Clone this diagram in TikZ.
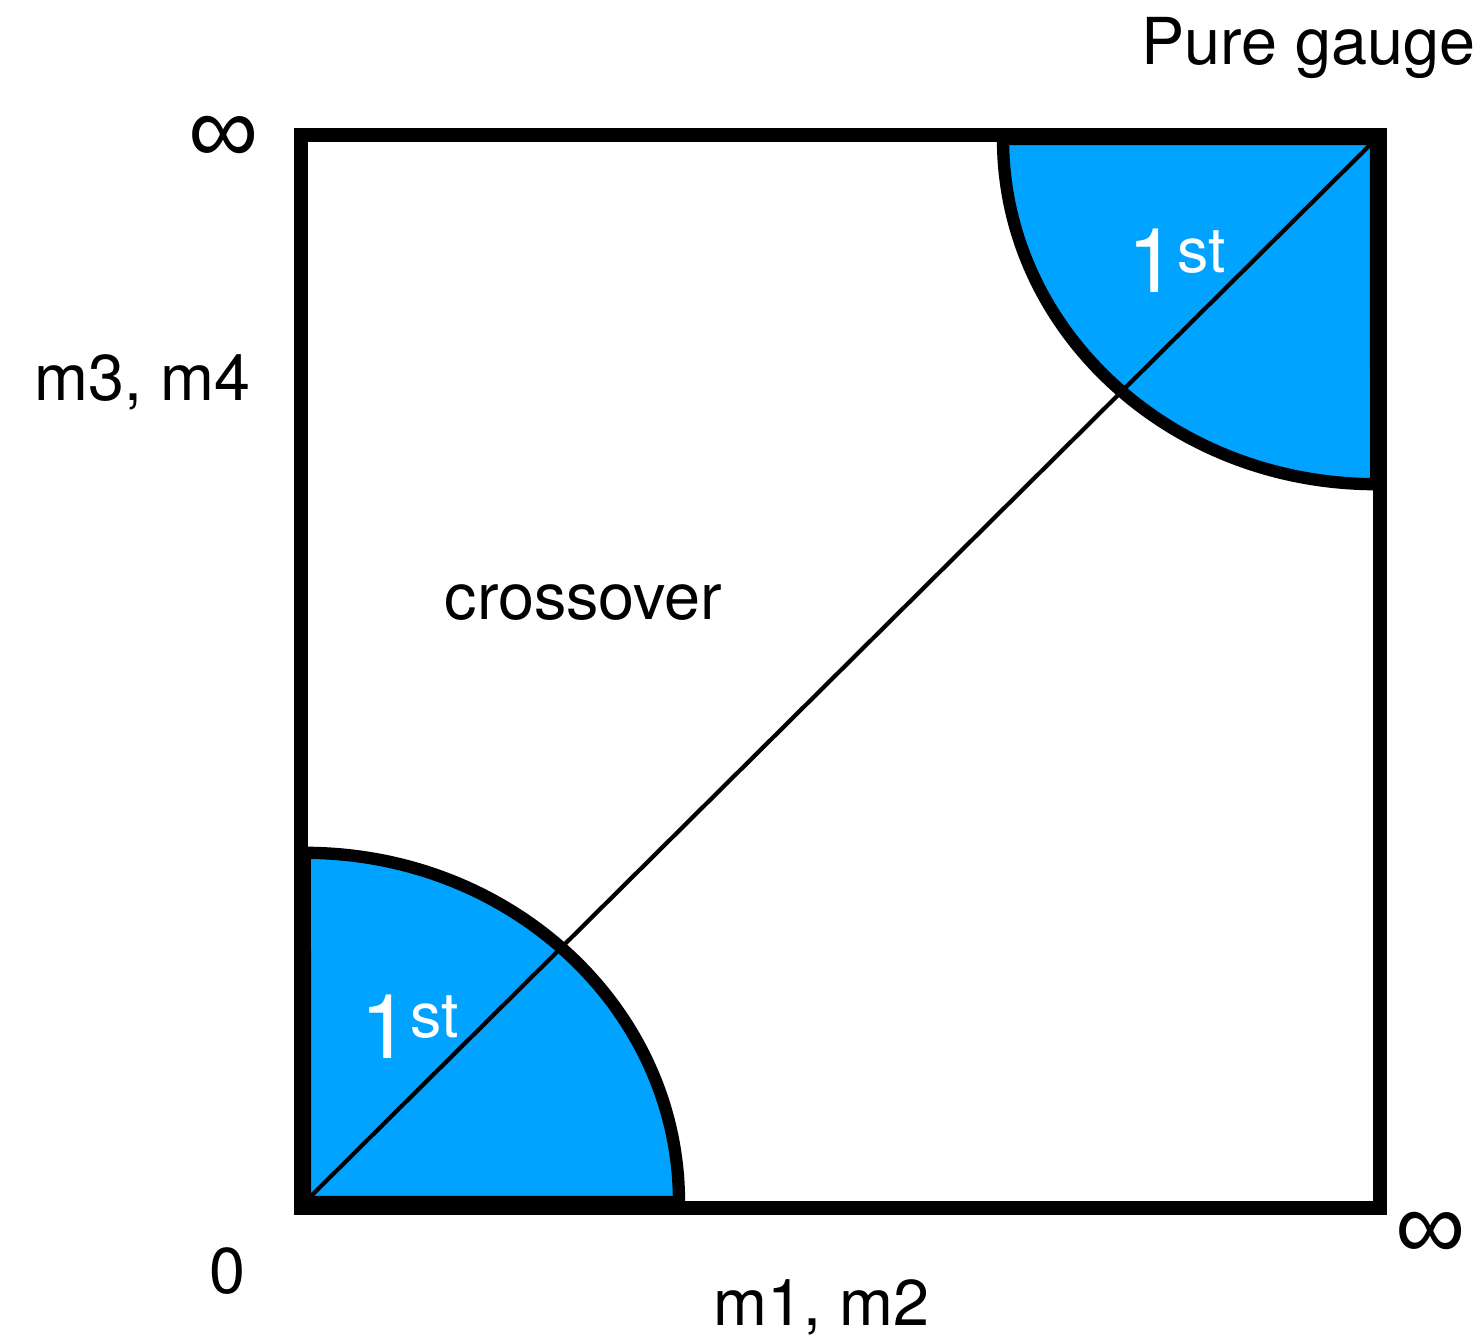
\documentclass[tikz,border=0pt]{standalone}
\usepackage{fontspec}
\setmainfont{TeX Gyre Heros}
\newfontfamily\symfont{Liberation Sans}
\usetikzlibrary{positioning}
\definecolor{PieBlue}{HTML}{00A3FF}

\begin{document}
\begin{tikzpicture}[x=0.01cm,y=0.01cm,
    frame/.style={draw=black,line width=4pt},
    pie/.style={fill=PieBlue,draw=black,line width=3.5pt},
    diag/.style={draw=black,line width=1.2pt},
    lbl/.style={inner sep=0pt,font=\fontsize{18.4}{22}\selectfont},
    order/.style={inner sep=0pt,text=white,font=\fontsize{25.5}{30}\selectfont},
    inf/.style={inner sep=0pt,font=\symfont\fontsize{28}{32}\selectfont}
  ]
  \useasboundingbox (0,0) rectangle (1481,1338);
  \coordinate (origin) at (305,136);
  \coordinate (corner) at (1376,1199);
  % first-order regions
  \filldraw[pie] (origin) -- ++(374,0)
    arc[start angle=0,end angle=90,x radius=3.74cm,y radius=3.49cm] -- cycle;
  \filldraw[pie] (corner) -- ++(-373,0)
    arc[start angle=180,end angle=270,x radius=3.73cm,y radius=3.45cm] -- cycle;
  \draw[diag] (origin) -- (corner);
  \draw[frame] (301,130) rectangle (1380,1203);
  % labels
  \node[order,anchor=base west] (firstlow) at (360,280)
    {1\raisebox{5.7pt}{\fontsize{17.8}{20}\selectfont st}};
  \node[order,anchor=base west] (firsthigh) at (1127,1045)
    {1\raisebox{5.7pt}{\fontsize{17.8}{20}\selectfont st}};
  \node[lbl,anchor=base west] (cross) at (444,719) {crossover};
  \node[lbl,anchor=base east] (pure) at (1476,1273) {Pure gauge};
  \node[lbl,anchor=base west] (yaxis) at (34,938) {m3, m4};
  \node[lbl,anchor=base west] (xaxis) at (713,13) {m1, m2};
  \node[lbl,anchor=base] (zero) at (227,45) {0};
  \node[inf] (yinf) at (224,1198) {∞};
  \node[inf] (xinf) at (1431,102) {∞};
\end{tikzpicture}
\end{document}
